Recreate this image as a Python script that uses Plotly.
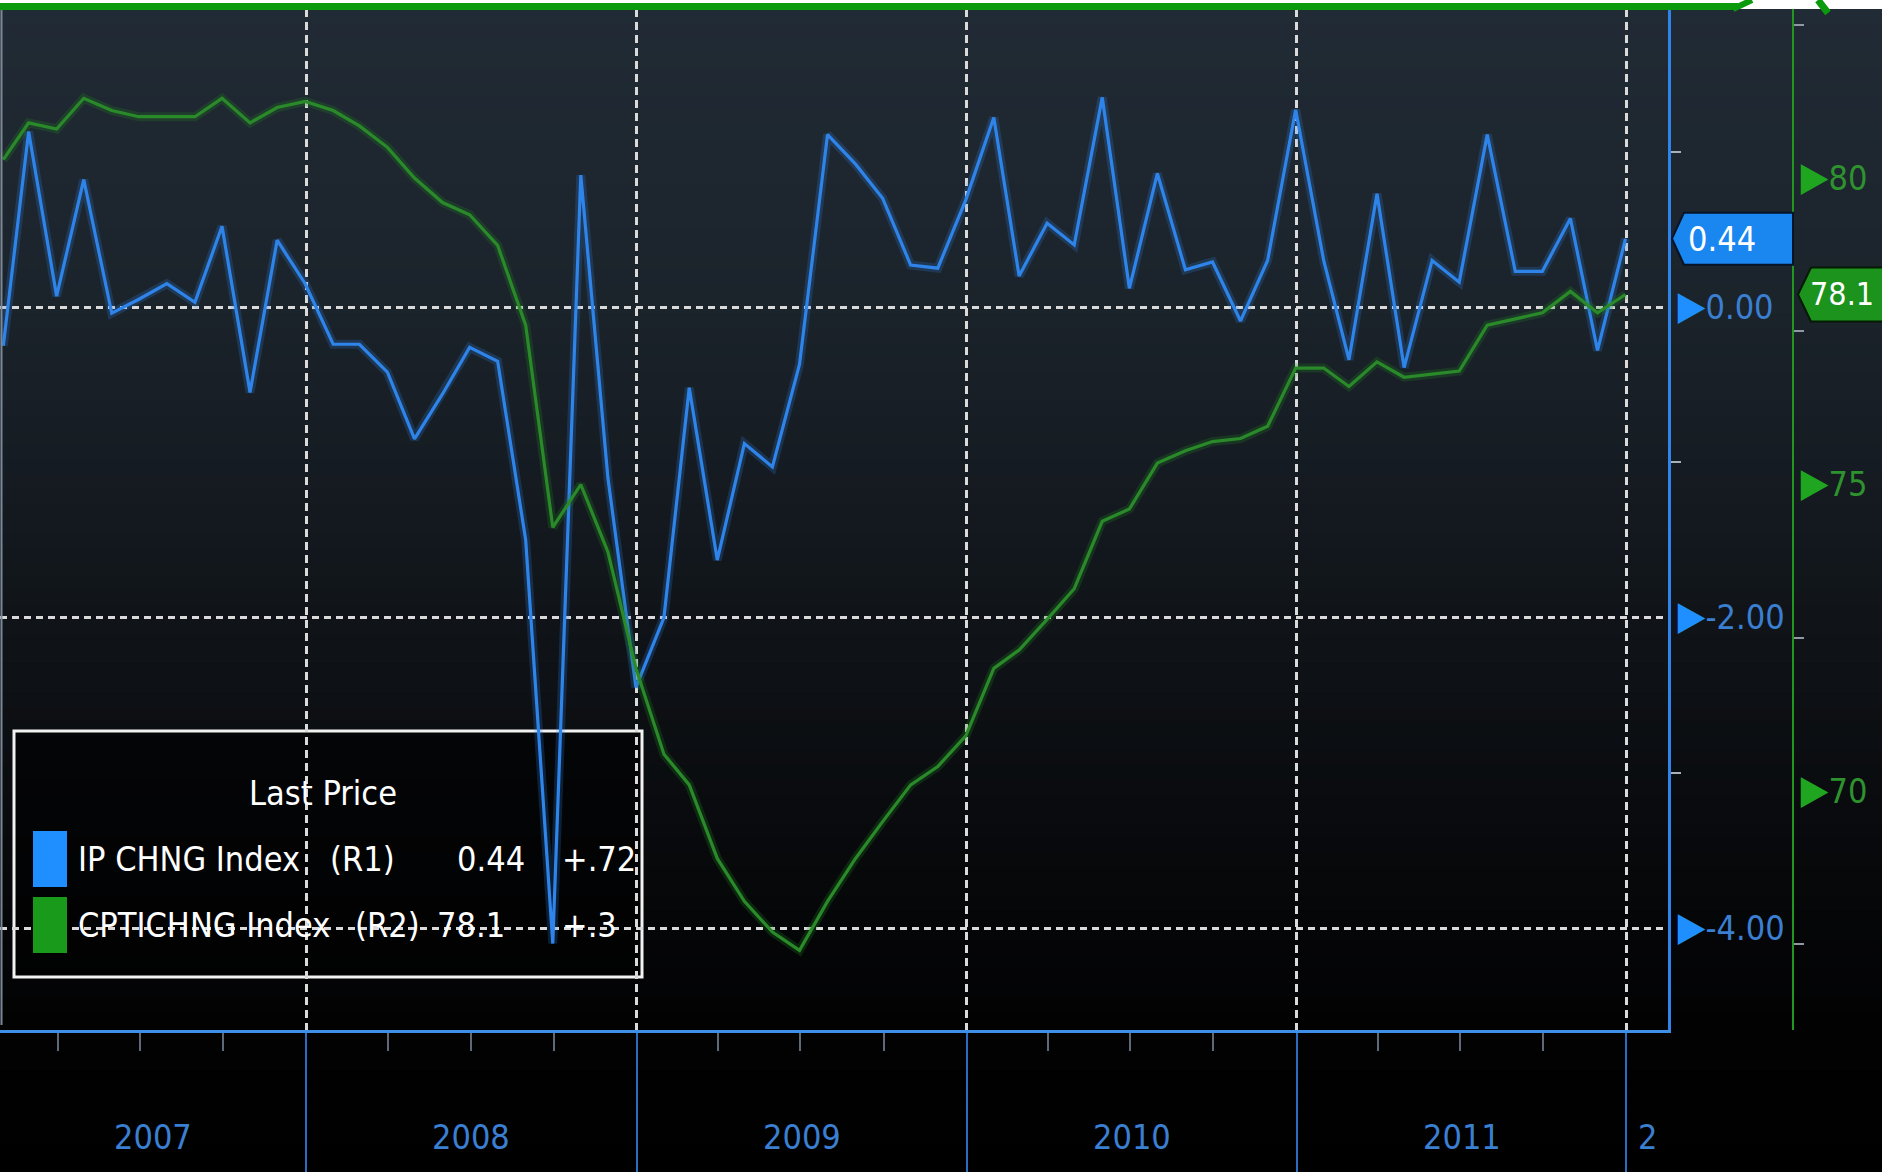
import plotly.graph_objects as go
import pandas as pd

# ---------------- data ----------------
months = pd.date_range("2007-01-01", periods=60, freq="MS") + pd.offsets.MonthEnd(0)
ip_chng = [-0.25, 1.13, 0.07, 0.82, -0.04, 0.05, 0.15, 0.03, 0.52, -0.55,
           0.43, 0.15, -0.24, -0.24, -0.42, -0.85, -0.56, -0.26, -0.35, -1.50,
           -4.10, 0.85, -1.10, -2.45, -2.00, -0.52, -1.63, -0.88, -1.03, -0.37,
           1.11, 0.92, 0.70, 0.27, 0.25, 0.69, 1.22, 0.20, 0.54, 0.40,
           1.35, 0.12, 0.86, 0.24, 0.29, -0.09, 0.30, 1.27, 0.30, -0.34,
           0.73, -0.39, 0.30, 0.16, 1.11, 0.23, 0.23, 0.57, -0.28, 0.44]
cpti_chng = [80.3, 80.9, 80.8, 81.3, 81.1, 81.0, 81.0, 81.0, 81.3, 80.9,
             81.15, 81.25, 81.1, 80.85, 80.5, 80.0, 79.6, 79.4, 78.9, 77.6,
             74.3, 75.0, 73.9, 72.0, 70.6, 70.1, 68.9, 68.2, 67.7, 67.4,
             68.2, 68.9, 69.5, 70.1, 70.4, 70.9, 72.0, 72.3, 72.8, 73.3,
             74.4, 74.6, 75.35, 75.55, 75.7, 75.75, 75.95, 76.9, 76.9, 76.6,
             77.0, 76.75, 76.8, 76.85, 77.6, 77.7, 77.8, 78.15, 77.8, 78.1]
years = [2007, 2008, 2009, 2010, 2011, 2012]
year_labels = ["2007", "2008", "2009", "2010", "2011", "2"]
r1_ticks = [-4, -2, 0]
r1_minor = [-3, -1, 1]
r2_ticks = [70, 75, 80]
r2_minor = [67.5, 72.5, 77.5, 82.5]
names = ["IP CHNG Index", "CPTICHNG Index"]
tags = ["(R1)", "(R2)"]

# ---------------- style ----------------
W, H = 1882, 1172
T, B = 9, 142
PLOT_R = 1668
R2_X = 1793
FONT = "DejaVu Sans Condensed, DejaVu Sans, sans-serif"
FS = 34
BLUE = "#2f84ea"
BLUE_TXT = "#3a7fd2"
BLUE_TRI = "#1f8fff"
GREEN = "#2a8a2a"
GREEN_TXT = "#2e922e"
GREEN_TRI = "#1fa51f"
GRID = "#dadada"

x_start = pd.Timestamp("2007-01-27 08:00")
x_end = pd.Timestamp("2012-02-16")


def px(p):
    return p / W


def py(p):
    return (H - B - p) / (H - B - T)


fig = go.Figure()

# background gradient
keys = [(9, (33, 43, 53)), (300, (27, 35, 43)), (500, (20, 26, 32)),
        (700, (13, 16, 20)), (900, (6, 7, 9)), (1030, (2, 2, 3)), (1172, (0, 0, 0))]


def col_at(y):
    for (y0, c0), (y1, c1) in zip(keys[:-1], keys[1:]):
        if y0 <= y <= y1:
            t = (y - y0) / (y1 - y0)
            return "rgb(%d,%d,%d)" % tuple(round(a + (b - a) * t) for a, b in zip(c0, c1))
    return "rgb(0,0,0)"


n = 80
step = (H - T) / n
for k in range(n):
    y0 = T + k * step
    y1 = y0 + step + 1
    fig.add_shape(type="rect", xref="paper", yref="paper", x0=0, x1=1.01,
                  y0=py(y1), y1=py(y0), fillcolor=col_at(y0 + step / 2),
                  line_width=0, layer="below")

# legend box (below traces)
fig.add_shape(type="rect", xref="paper", yref="paper", x0=px(14), x1=px(642),
              y0=py(977), y1=py(731), fillcolor="rgba(0,0,0,0.6)",
              line=dict(color="#f2f2f2", width=3), layer="below")

# traces (soft glow underneath, then the line)
fig.add_trace(go.Scatter(x=months, y=ip_chng, mode="lines",
                         line=dict(color="rgba(47,132,234,0.22)", width=9), yaxis="y",
                         showlegend=False, hoverinfo="skip"))
fig.add_trace(go.Scatter(x=months, y=ip_chng, mode="lines", name=names[0],
                         line=dict(color=BLUE, width=3.2), yaxis="y",
                         showlegend=False, hoverinfo="skip"))
fig.add_trace(go.Scatter(x=months, y=cpti_chng, mode="lines",
                         line=dict(color="rgba(30,130,30,0.25)", width=9), yaxis="y2",
                         showlegend=False, hoverinfo="skip"))
fig.add_trace(go.Scatter(x=months, y=cpti_chng, mode="lines", name=names[1],
                         line=dict(color=GREEN, width=3.2), yaxis="y2",
                         showlegend=False, hoverinfo="skip"))

# year label positions: middle of the visible part of each year
label_pos = []
for yr in years:
    a = max(x_start, pd.Timestamp(yr, 1, 1))
    b = min(x_end, pd.Timestamp(yr + 1, 1, 1))
    label_pos.append(a + (b - a) / 2)

year_starts = [pd.Timestamp(yr, 1, 1) for yr in years]
quarters = [pd.Timestamp(yr, m, 1) for yr in years for m in (4, 7, 10)]

TRI = '<span style="color:%s;font-size:40px">&#9654;</span>'
r1_text = [(TRI % BLUE_TRI) + "%.2f" % v for v in r1_ticks]
r2_text = [(TRI % GREEN_TRI) + "%d" % v for v in r2_ticks]

fig.update_layout(
    width=W, height=H, autosize=False,
    margin=dict(l=0, r=0, t=T, b=B, pad=0),
    paper_bgcolor="white", plot_bgcolor="rgba(0,0,0,0)",
    showlegend=False,
    font=dict(family=FONT, size=FS, color="white"),
    xaxis=dict(
        type="date", range=[x_start, x_end], domain=[0, PLOT_R / W],
        tickmode="array", tickvals=year_starts, showticklabels=False,
        ticks="outside", ticklen=B, tickwidth=2, tickcolor="#2a6cc0",
        showgrid=True, gridcolor=GRID, gridwidth=3, griddash="8px,5px",
        showline=True, linecolor="#3f8fe8", linewidth=3,
        zeroline=False,
        minor=dict(tickmode="array", tickvals=quarters, ticks="outside",
                   ticklen=18, tickwidth=2, tickcolor="#5d6878", showgrid=False),
    ),
    yaxis=dict(
        range=[-(H - B - 307) / 155.25, (307 - T) / 155.25], autorange=False,
        side="right", anchor="x",
        tickmode="array", tickvals=r1_ticks, ticktext=r1_text, ticks="",
        tickfont=dict(family=FONT, size=FS, color=BLUE_TXT),
        showgrid=True, gridcolor=GRID, gridwidth=3, griddash="7px,5px",
        zeroline=False, showline=True, linecolor=BLUE, linewidth=3,
        minor=dict(tickmode="array", tickvals=r1_minor, ticks="outside",
                   ticklen=10, tickwidth=2, tickcolor="#a8b0bc", showgrid=False),
    ),
    yaxis2=dict(
        range=[80 - (H - B - 178) / 61.3, 80 + (178 - T) / 61.3], autorange=False,
        side="right", overlaying="y", anchor="free", position=R2_X / W,
        tickmode="array", tickvals=r2_ticks, ticktext=r2_text, ticks="",
        tickfont=dict(family=FONT, size=FS, color=GREEN_TXT),
        showgrid=False, zeroline=False, showline=True, linecolor="#23961f",
        linewidth=2,
        minor=dict(tickmode="array", tickvals=r2_minor, ticks="outside",
                   ticklen=10, tickwidth=2, tickcolor="#8f98a4", showgrid=False),
    ),
)

# year labels under the axis, centred on the visible part of each year
for pos, lab in zip(label_pos, year_labels):
    fig.add_annotation(xref="x", x=pos, yref="paper", y=py(1137), text=lab,
                       showarrow=False, xanchor="center", yanchor="middle",
                       font=dict(family=FONT, size=FS, color=BLUE_TXT))

# last value flags
fig.add_shape(type="path", xref="paper", xsizemode="pixel", xanchor=PLOT_R / W,
              yref="y", ysizemode="pixel", yanchor=ip_chng[-1],
              path="M 4,0 L 16,26 L 125,26 L 125,-26 L 16,-26 Z",
              fillcolor="#1a86f0", line=dict(color="#061428", width=2))
fig.add_annotation(xref="paper", x=px(1686), yref="y", y=ip_chng[-1],
                   text="%.2f" % ip_chng[-1], showarrow=False, xanchor="left",
                   yanchor="middle",
                   font=dict(family=FONT, size=FS, color="white"))
fig.add_shape(type="path", xref="paper", xsizemode="pixel", xanchor=R2_X / W,
              yref="y2", ysizemode="pixel", yanchor=cpti_chng[-1],
              path="M 5,0 L 18,27 L 100,27 L 100,-27 L 18,-27 Z",
              fillcolor="#1c931c", line=dict(color="#031a03", width=2))
fig.add_annotation(xref="paper", x=px(1808), yref="y2", y=cpti_chng[-1],
                   text="%.1f" % cpti_chng[-1], showarrow=False, xanchor="left",
                   yanchor="middle",
                   font=dict(family=FONT, size=32, color="white"))

# legend content
def chg(v, nd):
    s = ("%+." + str(nd) + "f") % v
    return s.replace("+0.", "+.").replace("-0.", "-.")


fig.add_annotation(xref="paper", yref="paper", x=px(323), y=py(793),
                   text="Last Price", showarrow=False, xanchor="center",
                   yanchor="middle",
                   font=dict(family=FONT, size=FS, color="white"))
rows = [
    (859, BLUE_TRI, names[0], tags[0], 328, "%.2f" % ip_chng[-1], 527,
     chg(ip_chng[-1] - ip_chng[-2], 2)),
    (925, "#1a9a1a", names[1], tags[1], 353, "%.1f" % cpti_chng[-1], 507,
     chg(cpti_chng[-1] - cpti_chng[-2], 1)),
]
for yc, sw, nm, tg, tgx, val, valx, ch in rows:
    fig.add_shape(type="rect", xref="paper", yref="paper", x0=px(33), x1=px(67),
                  y0=py(yc + 28), y1=py(yc - 28), fillcolor=sw, line_width=0)
    for txt, xx, anc in ((nm, 76, "left"), (tg, tgx, "left"),
                         (val, valx, "right"), (ch, 560, "left")):
        fig.add_annotation(xref="paper", yref="paper", x=px(xx), y=py(yc), text=txt,
                           showarrow=False, xanchor=anc, yanchor="middle",
                           font=dict(family=FONT, size=FS, color="white"))

# left edge line
fig.add_shape(type="line", xref="paper", yref="paper", x0=px(1.5), x1=px(1.5),
              y0=py(1025), y1=py(10), line=dict(color="#7d8896", width=2))

# top green frame fragments
fig.add_shape(type="rect", xref="paper", yref="paper", x0=0, x1=px(1738),
              y0=py(10), y1=py(3), fillcolor="#0b9a0b", line_width=0)
fig.add_shape(type="line", xref="paper", yref="paper", x0=px(1733), x1=px(1752),
              y0=py(9), y1=py(0), line=dict(color="#0b9a0b", width=6))
fig.add_shape(type="line", xref="paper", yref="paper", x0=px(1818), x1=px(1828),
              y0=py(0), y1=py(13), line=dict(color="#0b9a0b", width=7))

fig.write_html("out.html", config={"displayModeBar": False},
               post_script="document.body.style.margin='0';document.body.style.overflow='hidden';")
